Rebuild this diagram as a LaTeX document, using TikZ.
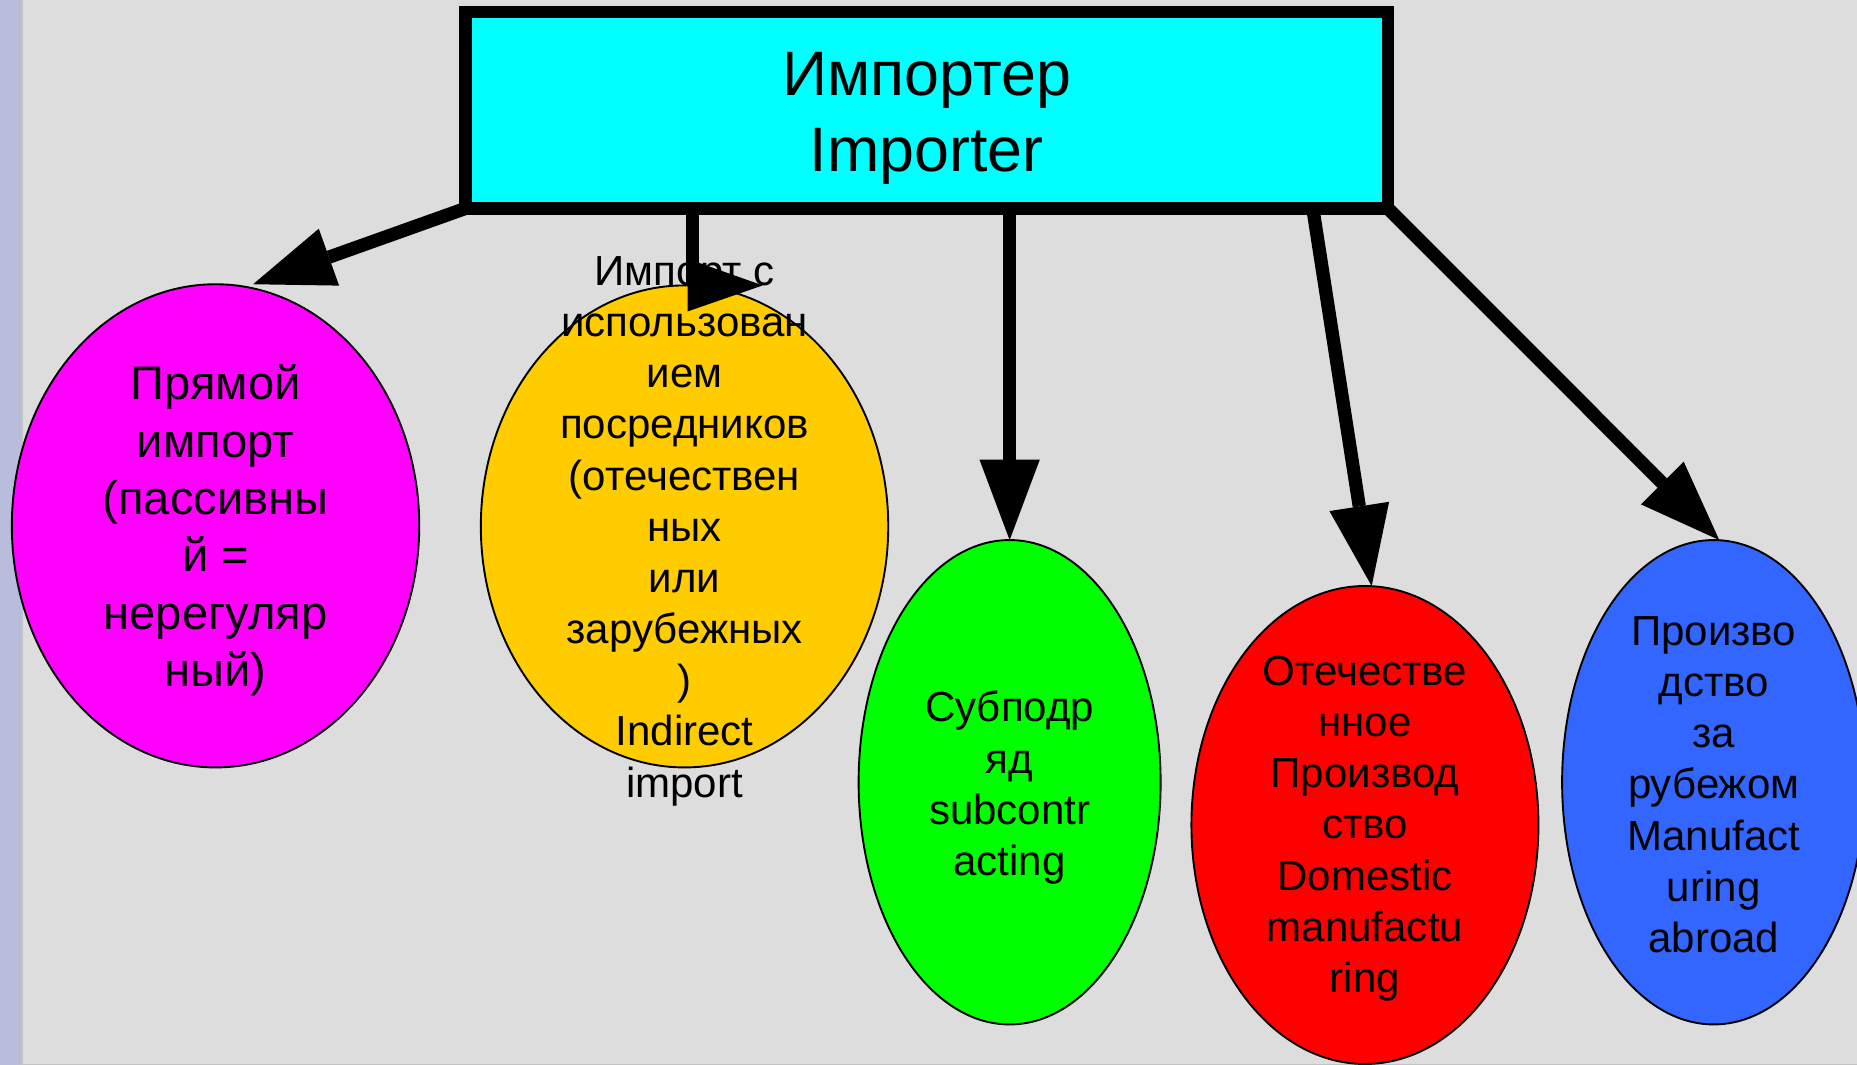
\documentclass[tikz,border=0pt]{standalone}
\usepackage{fontspec}
\setmainfont{Liberation Sans}
\usetikzlibrary{shapes.geometric,arrows.meta,calc}
\definecolor{bgc}{HTML}{DDDDDD}
\definecolor{stripc}{HTML}{B8BDDB}
\definecolor{sepc}{HTML}{C4C4C4}
\definecolor{cyanc}{HTML}{00FFFF}
\definecolor{magc}{HTML}{FF00FF}
\definecolor{orac}{HTML}{FFCC00}
\definecolor{grnc}{HTML}{00FF00}
\definecolor{redc}{HTML}{FF0000}
\definecolor{bluc}{HTML}{3366FF}
\begin{document}
\begin{tikzpicture}[x=1pt,y=-1pt,
  ell/.style={ellipse, draw=black, line width=1.6pt, inner sep=0pt, outer sep=0pt},
  txt/.style={align=center, inner sep=0pt, font=\fontsize{35.5}{43.2}\selectfont},
  bigtxt/.style={align=center, inner sep=0pt, font=\fontsize{39.8}{48.4}\selectfont},
  hdr/.style={draw=black, line width=10.5pt, fill=cyanc, minimum width=779pt, minimum height=166pt,
    inner sep=0pt, outer sep=0pt},
  hdrtxt/.style={align=center, inner sep=0pt, font=\fontsize{53}{64}\selectfont},
  conn/.style={line width=11.2pt, -{Triangle[length=68pt,width=51pt,line width=0pt]}},
  shaft/.style={line width=11.2pt}]
\useasboundingbox (0,0) rectangle (1568,899);
\clip (0,0) rectangle (1568,899);
\fill[bgc] (0,0) rectangle (1568,899);
\fill[stripc] (0,0) rectangle (18,899);
\draw[sepc, line width=1pt] (18.5,0) -- (18.5,899);
\draw[sepc, line width=1pt] (18,898.5) -- (1568,898.5);

% header
\node[hdr] (imp) at (782.5,93) {};
\node[hdrtxt] (impt) at ($(imp)+(0,7)$) {Импортер\\Importer};

% ellipses
\node[ell, fill=magc, minimum width=344pt, minimum height=408pt] (mag) at (182,444) {};
\node[ell, fill=orac, minimum width=344pt, minimum height=407pt] (ora) at (578,444.5) {};
\node[ell, fill=grnc, minimum width=255pt, minimum height=409pt] (grn) at (852.5,660.5) {};
\node[ell, fill=redc, minimum width=293pt, minimum height=403.6pt] (red) at (1152.5,696.6) {};
\node[ell, fill=bluc, minimum width=256pt, minimum height=409pt] (blu) at (1447,660.5) {};

% texts
\node[bigtxt] (magt) at ($(mag)+(0,4)$) {Прямой\\импорт\\(пассивны\\й =\\нерегуляр\\ный)};
\node[txt] (orat) at ($(ora)+(0,4)$) {Импорт с\\использован\\ием\\посредников\\(отечествен\\ных\\или\\зарубежных\\)\\Indirect\\import};
\node[txt] (grnt) at ($(grn)+(0,4.5)$) {Субподр\\яд\\subcontr\\acting};
\node[txt] (redt) at ($(red)+(0,3)$) {Отечестве\\нное\\Производ\\ство\\Domestic\\manufactu\\ring};
\node[txt] (blut) at ($(blu)+(0,2)$) {Произво\\дство\\за\\рубежом\\Manufact\\uring\\abroad};

% connector end points
\coordinate (t1) at ($(mag.north)+(31.7,0)$);
\coordinate (s2) at ($(imp.south west)+(192,0)$);
\coordinate (e2) at ($(ora.north)+(7,0)$);
\coordinate (t2) at ($(ora.north)+(66,0)$);
\coordinate (s3) at (imp.south -| grn.north);
\coordinate (s4) at ($(imp.south west)+(715.5,0)$);
\coordinate (t4) at ($(red.north)+(5.7,0)$);
\coordinate (t5) at ($(blu.north)+(4.7,0)$);

% connectors
\draw[conn] (imp.south west) -- (t1);
\draw[shaft] (s2) -- (e2);
\fill ($(ora.north)+(2.5,-22.5)$) -- (t2) -- ($(ora.north)+(2.5,22)$) -- cycle;
\draw[conn] (s3) -- (grn.north);
\draw[conn] (s4) -- (t4);
\draw[conn] (imp.south east) -- (t5);
\end{tikzpicture}
\end{document}
